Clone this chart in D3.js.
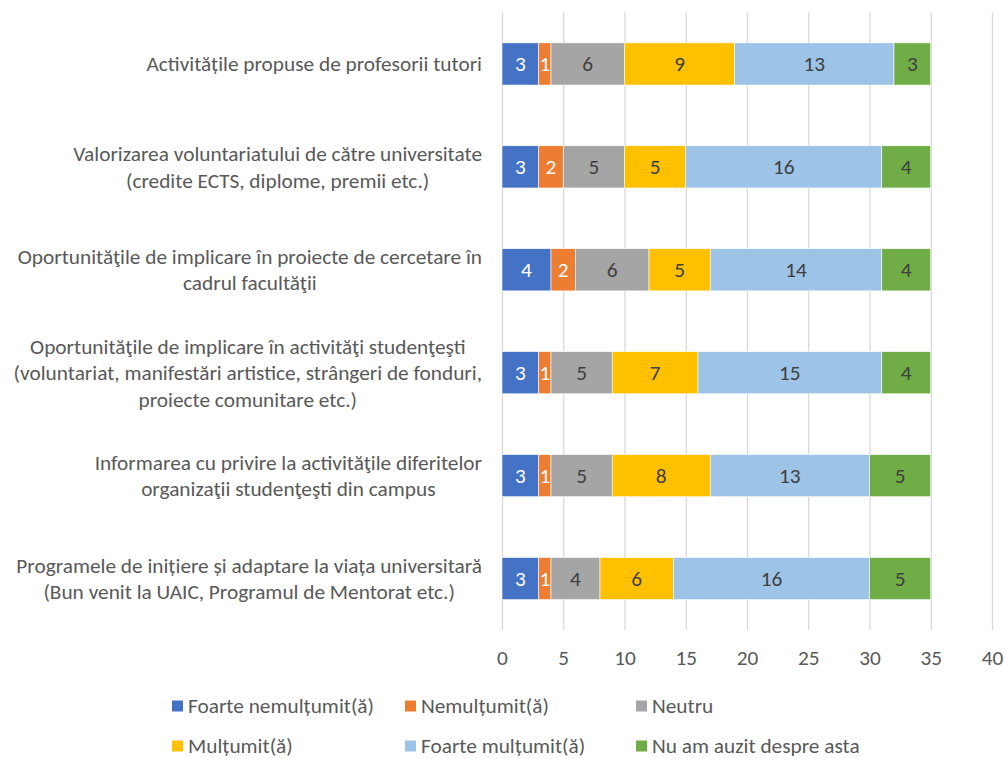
<!DOCTYPE html>
<html><head><meta charset="utf-8">
<script src="https://cdn.jsdelivr.net/npm/d3@7"></script>
<style>
  body { margin: 0; background: #fff; }
  text { font-family: Carlito, Calibri, Lato, sans-serif; }
</style>
</head><body>
<script>
// categories (each entry = the lines of the wrapped label)
var categories = [
    ["Activitățile propuse de profesorii tutori"],
    ["Valorizarea voluntariatului de către universitate", "(credite ECTS, diplome, premii etc.)"],
    ["Oportunităţile de implicare în proiecte de cercetare în", "cadrul facultăţii"],
    ["Oportunităţile de implicare în activităţi studenţeşti", "(voluntariat, manifestări artistice, strângeri de fonduri,", "proiecte comunitare etc.)"],
    ["Informarea cu privire la activităţile diferitelor", "organizaţii studenţeşti din campus"],
    ["Programele de inițiere și adaptare la viața universitară", "(Bun venit la UAIC, Programul de Mentorat etc.)"]
];

var seriesNames = ["Foarte nemulțumit(ă)", "Nemulțumit(ă)", "Neutru", "Mulțumit(ă)", "Foarte mulțumit(ă)", "Nu am auzit despre asta"];
var seriesColors = ["#4472C4", "#ED7D31", "#A5A5A5", "#FFC000", "#9DC3E6", "#70AD47"];
var labelColors = ["#ffffff", "#ffffff", "#404040", "#404040", "#404040", "#404040"];

// one array per series, same order as categories
var foarteNemultumit = [3, 3, 4, 3, 3, 3];
var nemultumit       = [1, 2, 2, 1, 1, 1];
var neutru           = [6, 5, 6, 5, 5, 4];
var multumit         = [9, 5, 5, 7, 8, 6];
var foarteMultumit   = [13, 16, 14, 15, 13, 16];
var nuAmAuzit        = [3, 4, 4, 4, 5, 5];

var xTicks = [0, 5, 10, 15, 20, 25, 30, 35, 40];

var seriesValues = [foarteNemultumit, nemultumit, neutru, multumit, foarteMultumit, nuAmAuzit];

var width = 1005, height = 759;
var margin = { top: 12.5, right: 13, bottom: 129, left: 502 };
var chartWidth = width - margin.left - margin.right;
var chartHeight = height - margin.top - margin.bottom;
var fontSize = 21.3;
var textGray = "#595959";

// build rows for the stack
var rows = categories.map(function(c, i) {
    var r = { idx: i };
    seriesNames.forEach(function(s, j) { r[s] = seriesValues[j][i]; });
    return r;
});
var stacked = d3.stack().keys(seriesNames)(rows);

var xScale = d3.scaleLinear().domain([0, 40]).range([0, chartWidth]);
var yScale = d3.scaleBand().domain(d3.range(categories.length))
    .range([0, chartHeight]).paddingInner(0.59).paddingOuter(0.295);

var svg = d3.select("body").append("svg")
    .attr("width", width).attr("height", height);

var g = svg.append("g")
    .attr("transform", "translate(" + margin.left + "," + margin.top + ")");

// vertical gridlines + tick labels
var xAxis = g.append("g")
    .attr("transform", "translate(0," + chartHeight + ")")
    .call(d3.axisBottom(xScale).tickValues(xTicks).tickSize(chartHeight).tickPadding(0));
xAxis.select(".domain").remove();
xAxis.selectAll(".tick line")
    .attr("y1", 0).attr("y2", -chartHeight)
    .attr("stroke", "#D9D9D9").attr("stroke-width", 1.3);
xAxis.selectAll(".tick text")
    .attr("y", 28).attr("dy", "0.35em")
    .attr("fill", textGray)
    .style("font-size", fontSize + "px");

// stacked bars
var layers = g.selectAll(".layer")
    .data(stacked)
    .enter().append("g")
    .attr("class", "layer")
    .attr("fill", function(d, i) { return seriesColors[i]; });

layers.selectAll("rect")
    .data(function(d) { return d; })
    .enter().append("rect")
    .attr("x", function(d) { return xScale(d[0]); })
    .attr("y", function(d) { return yScale(d.data.idx); })
    .attr("width", function(d) { return xScale(d[1]) - xScale(d[0]); })
    .attr("height", yScale.bandwidth())
    .attr("stroke", "#ffffff")
    .attr("stroke-width", 0.6);

// data labels
layers.each(function(layer, i) {
    d3.select(this).selectAll("text")
        .data(layer)
        .enter().append("text")
        .attr("x", function(d) { return (xScale(d[0]) + xScale(d[1])) / 2; })
        .attr("y", function(d) { return yScale(d.data.idx) + yScale.bandwidth() / 2; })
        .attr("dy", "0.35em")
        .attr("text-anchor", "middle")
        .attr("fill", labelColors[i])
        .style("font-size", fontSize + "px")
        .text(function(d) { return d[1] - d[0]; });
});

// category labels: lines centered on each other, block right-aligned
var lineHeight = 26.5;
var labelRight = margin.left - 20;
categories.forEach(function(lines, i) {
    var grp = svg.append("g");
    var texts = lines.map(function(line, k) {
        return grp.append("text")
            .attr("y", margin.top + yScale(i) + yScale.bandwidth() / 2 + (k - (lines.length - 1) / 2) * lineHeight)
            .attr("dy", "0.35em")
            .attr("text-anchor", "middle")
            .attr("fill", textGray)
            .style("font-size", fontSize + "px")
            .text(line);
    });
    var maxW = d3.max(texts, function(t) { return t.node().getComputedTextLength(); });
    texts.forEach(function(t) { t.attr("x", labelRight - maxW / 2); });
});

// legend
var legendCols = [172, 405, 636];
var legendRows = [706, 746];
var legend = svg.selectAll(".legend")
    .data(seriesNames)
    .enter().append("g")
    .attr("class", "legend")
    .attr("transform", function(d, i) {
        return "translate(" + legendCols[i % 3] + "," + legendRows[Math.floor(i / 3)] + ")";
    });
legend.append("rect")
    .attr("x", 0).attr("y", -5.5)
    .attr("width", 11).attr("height", 11)
    .attr("fill", function(d, i) { return seriesColors[i]; });
legend.append("text")
    .attr("x", 16).attr("dy", "0.35em")
    .attr("fill", textGray)
    .style("font-size", fontSize + "px")
    .text(function(d) { return d; });
</script>
</body></html>
